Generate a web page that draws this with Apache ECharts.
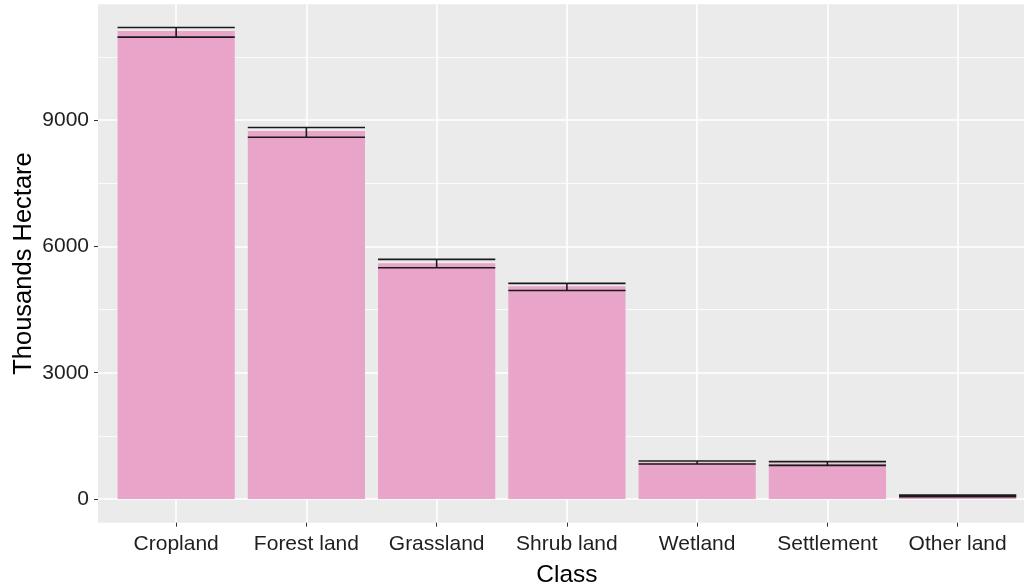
<!DOCTYPE html>
<html>
<head>
<meta charset="utf-8">
<script src="https://cdn.jsdelivr.net/npm/echarts@6/dist/echarts.min.js"></script>
<style>
  html, body { margin: 0; padding: 0; background: #ffffff; }
  #chart { width: 1024px; height: 586px; }
</style>
</head>
<body>
<div id="chart"></div>
<script>
// Land area by class (thousands of hectares) with uncertainty range
const categories = ['Cropland', 'Forest land', 'Grassland', 'Shrub land', 'Wetland', 'Settlement', 'Other land'];
const area  = [11110, 8735, 5600, 5050, 870, 845, 80];
const lower = [10965, 8590, 5490, 4950, 835, 800, 60];
const upper = [11195, 8820, 5690, 5120, 905, 890, 95];
const yTicks = [0, 3000, 6000, 9000];
const yMinorTicks = [1500, 4500, 7500, 10500];
const xTicks = categories.map((c, i) => i);

const BAR_FILL = '#E9A5C9';
const ERR_COLOR = '#1a1a1a';
const HALF = 0.45; // half of the bar width in category units

const chart = echarts.init(document.getElementById('chart'), null, { renderer: 'canvas' });

const barData = categories.map((c, i) => [i, area[i]]);
const errData = categories.map((c, i) => [i, lower[i], upper[i]]);

const option = {
  backgroundColor: '#ffffff',
  animation: false,
  grid: {
    left: 98, top: 4.3, width: 937.8, height: 518.4,
    outerBoundsMode: 'none', containLabel: false,
    show: true, backgroundColor: '#EBEBEB', borderWidth: 0
  },
  xAxis: {
    type: 'value', min: -0.6, max: 6.6,
    name: 'Class', nameLocation: 'middle', nameGap: 40,
    nameTextStyle: { fontFamily: 'Liberation Sans', fontSize: 24.5, color: '#000' },
    axisLine: { show: false, onZero: false },
    axisTick: { show: true, length: 4, customValues: xTicks, lineStyle: { color: '#333', width: 1 } },
    axisLabel: {
      customValues: xTicks, margin: 11,
      fontFamily: 'Liberation Sans', fontSize: 21, color: '#1f1f1f',
      formatter: v => categories[Math.round(v)]
    },
    splitLine: { show: true, lineStyle: { color: '#ffffff', width: 1.6 } }
  },
  yAxis: [{
    type: 'value', min: -560, max: 11745,
    name: 'Thousands Hectare', nameLocation: 'middle', nameGap: 61, nameMoveOverlap: false,
    nameTextStyle: { fontFamily: 'Liberation Sans', fontSize: 25.5, color: '#000' },
    axisLine: { show: false, onZero: false },
    axisTick: { show: true, length: 4, customValues: yTicks, lineStyle: { color: '#333', width: 1 } },
    axisLabel: {
      customValues: yTicks, margin: 9,
      fontFamily: 'Liberation Sans', fontSize: 21, color: '#1f1f1f',
      formatter: v => String(v)
    },
    splitLine: { show: true, lineStyle: { color: '#ffffff', width: 1.6 } }
  }, {
    type: 'value', min: -560, max: 11745, position: 'left',
    axisLine: { show: false, onZero: false }, axisLabel: { show: false },
    axisTick: { show: false, customValues: yMinorTicks },
    splitLine: { show: true, lineStyle: { color: '#ffffff', width: 0.8 } }
  }],
  series: [{
    type: 'custom',
    name: 'Area',
    z: 3,
    data: barData,
    encode: { x: 0, y: 1 },
    renderItem: (params, api) => {
      const x = api.value(0), y = api.value(1);
      const tl = api.coord([x - HALF, y]);
      const br = api.coord([x + HALF, 0]);
      return {
        type: 'rect',
        shape: { x: tl[0], y: tl[1], width: br[0] - tl[0], height: br[1] - tl[1] },
        style: { fill: BAR_FILL }
      };
    }
  }, {
    type: 'custom',
    name: 'Range',
    z: 4,
    data: errData,
    encode: { x: 0, y: [1, 2] },
    renderItem: (params, api) => {
      const x = api.value(0);
      const lo = api.value(1), hi = api.value(2);
      const a = api.coord([x - HALF, lo]), b = api.coord([x + HALF, lo]);
      const c = api.coord([x - HALF, hi]), d = api.coord([x + HALF, hi]);
      const m1 = api.coord([x, lo]), m2 = api.coord([x, hi]);
      const style = { stroke: ERR_COLOR, lineWidth: 1.6, fill: null };
      return {
        type: 'group',
        children: [
          { type: 'line', shape: { x1: a[0], y1: a[1], x2: b[0], y2: b[1] }, style },
          { type: 'line', shape: { x1: c[0], y1: c[1], x2: d[0], y2: d[1] }, style },
          { type: 'line', shape: { x1: m1[0], y1: m1[1], x2: m2[0], y2: m2[1] }, style }
        ]
      };
    }
  }]
};

chart.setOption(option);
</script>
</body>
</html>
